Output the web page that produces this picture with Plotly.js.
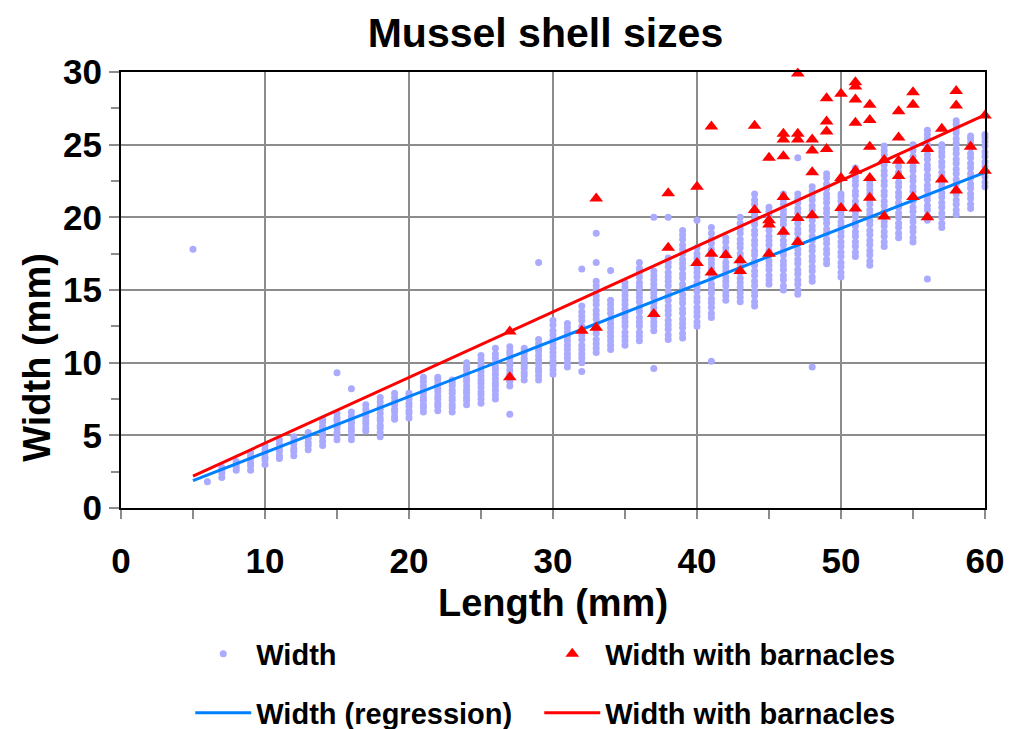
<!DOCTYPE html>
<html>
<head>
<meta charset="utf-8">
<script src="https://cdn.plot.ly/plotly-3.0.1.min.js"></script>
<style>html,body{margin:0;padding:0;background:#fff;}#chart{width:1012px;height:729px;}</style>
</head>
<body>
<div id="chart"></div>
<script>
// Shell length (mm) columns and the widths measured at each length
const lengths = [5,6,7,8,9,10,11,12,13,14,15,16,17,18,19,20,21,22,23,24,25,26,27,28,29,30,31,32,33,34,35,36,37,38,39,40,41,42,43,44,45,46,47,48,49,50,51,52,53,54,55,56,57,58,59,60];
const widthsAtLength = [
  [17.8],
  [1.8],
  [2.1,2.4,2.6,2.8],
  [2.6,2.8,3.0,3.2],
  [2.6,2.9,3.1,3.4,3.6,3.8],
  [3.0,3.3,3.5,3.8,4.0,4.3],
  [3.4,3.6,3.9,4.1,4.4,4.7],
  [3.6,3.9,4.1,4.4,4.6,4.9],
  [4.0,4.3,4.5,4.8,5.0,5.2],
  [4.3,4.6,4.9,5.1,5.4,5.6,5.9,6.1],
  [4.7,5.0,5.2,5.5,5.7,6.0,6.2,6.5,9.3],
  [4.7,5.0,5.3,5.5,5.8,6.0,6.3,6.6,8.2],
  [5.3,5.5,5.8,6.0,6.3,6.5,6.8,7.1],
  [4.9,5.2,5.5,5.7,6.0,6.2,6.5,6.8,7.0,7.3,7.6],
  [6.1,6.3,6.6,6.8,7.1,7.3,7.6,7.9],
  [6.2,6.5,6.7,7.0,7.2,7.5,7.7,7.9],
  [6.6,6.9,7.1,7.4,7.6,7.9,8.1,8.4,8.7,9.0],
  [6.7,7.0,7.2,7.5,7.7,8.0,8.2,8.5,8.8,9.0],
  [6.6,6.9,7.1,7.4,7.6,7.9,8.1,8.4,8.6,8.8],
  [7.1,7.4,7.6,7.9,8.1,8.4,8.7,8.9,9.2,9.5,9.7,10.0],
  [7.2,7.5,7.8,8.0,8.3,8.6,8.8,9.1,9.4,9.7,9.9,10.2,10.5],
  [7.5,7.8,8.1,8.4,8.6,8.9,9.2,9.5,9.7,10.0,10.3,10.6,11.0],
  [6.45,8.4,8.7,9.0,9.2,9.5,9.8,10.0,10.3,10.6,10.8,11.1],
  [8.8,9.1,9.3,9.6,9.8,10.1,10.3,10.6,10.8,11.0],
  [8.8,9.1,9.4,9.6,9.9,10.2,10.5,10.8,11.0,11.3,11.6,16.9],
  [9.2,9.5,9.8,10.1,10.4,10.7,11.0,11.3,11.6,11.9,12.2,12.6,12.9],
  [9.7,10.0,10.3,10.6,10.9,11.2,11.5,11.8,12.1,12.4,12.7],
  [9.4,10.0,10.3,10.6,10.9,11.2,11.6,11.9,12.2,12.5,12.9,13.2,13.5,13.9,16.45],
  [10.7,11.0,11.3,11.6,12.0,12.3,12.6,13.0,13.3,13.6,14.0,14.3,14.6,15.0,15.3,15.6,16.9,18.9],
  [10.9,11.2,11.5,11.8,12.1,12.4,12.7,13.0,13.4,13.7,14.0,14.3,16.35],
  [11.2,11.5,11.8,12.1,12.5,12.8,13.1,13.4,13.7,14.0,14.3,14.6,14.9,15.2,15.5],
  [11.5,11.8,12.1,12.5,12.8,13.1,13.5,13.8,14.2,14.5,14.8,15.2,15.5,15.9,16.2,16.5,16.9],
  [9.6,12.2,12.5,12.8,13.1,13.5,13.8,14.1,14.5,14.8,15.1,15.4,15.7,16.0,16.3,20.0],
  [11.6,11.9,12.3,12.6,12.9,13.3,13.6,13.9,14.3,14.6,14.9,15.3,15.6,15.9,16.2,16.6,16.9,17.2,20.0],
  [11.7,12.0,12.4,12.7,13.0,13.4,13.7,14.1,14.4,14.7,15.1,15.4,15.8,16.1,16.5,16.8,17.1,17.5,17.8,18.1,18.5,18.8,19.1],
  [12.5,12.8,13.2,13.5,13.8,14.2,14.5,14.9,15.2,15.5,15.9,16.2,16.5,16.9,17.2,17.5,17.9,19.8],
  [10.1,13.1,13.4,13.8,14.1,14.4,14.8,15.1,15.4,15.8,16.1,16.5,16.8,17.1,17.5,17.8,18.2,18.5,18.9,19.3],
  [14.3,14.6,14.9,15.3,15.6,15.9,16.3,16.6,16.9,17.3,17.6,17.9,18.3,18.6],
  [14.2,14.5,14.8,15.2,15.5,15.8,16.2,16.5,16.8,17.2,17.5,17.9,18.2,18.5,18.9,19.2,19.6,20.0],
  [13.9,14.2,14.6,14.9,15.3,15.6,16.0,16.3,16.7,17.0,17.4,17.7,18.1,18.4,18.8,19.1,19.5,19.8,20.2,20.5,20.9,21.2,21.6],
  [15.4,15.7,16.0,16.4,16.7,17.0,17.4,17.7,18.1,18.4,18.7,19.1,19.4,19.7,20.1,20.4,20.7],
  [15.0,15.3,15.7,16.0,16.4,16.7,17.0,17.4,17.7,18.1,18.4,18.8,19.1,19.5,19.8,20.2,20.5,20.9,21.2,21.6],
  [14.7,15.0,15.4,15.7,16.1,16.4,16.8,17.1,17.5,17.8,18.2,18.5,18.9,19.2,19.6,19.9,20.3,20.6,21.0,21.3,21.6,24.1],
  [9.7,15.6,15.9,16.3,16.6,17.0,17.3,17.7,18.0,18.4,18.7,19.1,19.4,19.8,20.1,20.5,20.8,21.2,21.5,21.8,22.1],
  [16.8,17.1,17.5,17.8,18.2,18.5,18.9,19.2,19.6,19.9,20.3,20.6,21.0,21.3,21.6,22.0,22.3,22.7,23.0],
  [15.9,16.2,16.6,16.9,17.3,17.6,18.0,18.3,18.7,19.0,19.4,19.7,20.1,20.4,20.8,21.1,21.4,21.6],
  [17.3,17.6,18.0,18.3,18.7,19.0,19.4,19.7,20.1,20.4,20.8,21.1,21.5,21.8,22.2,22.5,22.8,23.1,23.4],
  [16.7,17.0,17.4,17.7,18.1,18.4,18.8,19.1,19.5,19.8,20.2,20.5,20.9,21.2,21.6,21.9,22.2,22.5],
  [18.0,18.3,18.7,19.0,19.4,19.7,20.1,20.4,20.8,21.1,21.5,21.8,22.2,22.5,22.9,23.2,23.6,23.9,24.3,24.6,24.9],
  [18.6,18.9,19.3,19.6,20.0,20.3,20.7,21.0,21.4,21.7,22.1,22.4,22.8,23.1,23.5,23.9],
  [18.3,18.6,19.0,19.3,19.7,20.0,20.4,20.7,21.1,21.4,21.8,22.1,22.5,22.8,23.2,23.5,23.9,24.2,24.6,25.0],
  [15.75,19.8,20.1,20.5,20.8,21.2,21.5,21.9,22.2,22.6,22.9,23.3,23.6,24.0,24.3,24.7,25.0,25.4,25.7,26.0],
  [19.3,19.6,20.0,20.3,20.7,21.0,21.4,21.7,22.1,22.4,22.8,23.1,23.5,23.8,24.2,24.5,24.8,25.0],
  [20.2,20.5,20.9,21.2,21.6,21.9,22.3,22.6,23.0,23.3,23.7,24.0,24.4,24.7,25.1,25.4,25.8,26.1,26.4,26.65],
  [20.6,20.9,21.3,21.6,22.0,22.3,22.7,23.0,23.4,23.7,24.1,24.4,24.8,25.1,25.4,25.6],
  [22.1,22.4,22.8,23.1,23.5,23.8,24.2,24.5,24.9,25.2,25.5,25.7]
];

// Mussels with barnacles
const barnacleLength = [27,27,32,33,33,37,38,38,40,40,41,41,41,42,43,43,44,44,45,45,45,45,46,46,46,46,46,47,47,47,47,47,48,48,48,48,49,49,49,49,50,50,50,51,51,51,51,51,51,52,52,52,52,52,53,53,54,54,54,54,55,55,55,55,56,56,57,57,58,58,58,59,60,60];
const barnacleWidth  = [9.0,12.15,12.2,12.4,21.3,13.35,17.9,21.65,16.85,22.1,16.2,17.5,26.25,17.4,16.3,17.05,20.5,26.3,17.5,19.5,19.8,24.1,19.0,21.4,24.2,25.35,25.75,18.3,19.95,25.35,25.75,29.9,20.15,23.1,24.6,25.35,24.7,25.9,26.6,28.2,20.65,22.7,28.5,20.6,23.2,26.5,28.1,29.0,29.3,21.35,22.7,24.85,26.7,27.75,20.05,23.95,22.85,23.9,25.5,27.3,21.4,23.9,27.75,28.6,20.0,24.7,22.6,26.1,21.85,27.7,28.7,24.85,23.2,27.0];

// Regression lines (end points)
const regressionLength = [5, 60];
const regressionWidth = [1.88, 23.1];
const regressionBarnacleWidth = [2.2, 27.05];

const tickVals = [0, 10, 20, 30, 40, 50, 60];
const yTickVals = [0, 5, 10, 15, 20, 25, 30];

const ptsX = [], ptsY = [];
lengths.forEach((L, i) => widthsAtLength[i].forEach(w => { ptsX.push(L); ptsY.push(w); }));

const FONT = 'Arial, "Liberation Sans", sans-serif';
const bold = (size) => ({family: FONT, size: size, color: '#000', weight: 700});

const traces = [
  {x: ptsX, y: ptsY, type: 'scatter', mode: 'markers', name: 'Width',
   marker: {color: '#aaaaff', size: 7, symbol: 'circle'}, cliponaxis: false, legend: 'legend'},
  {x: regressionLength, y: regressionWidth, type: 'scatter', mode: 'lines', name: 'Width (regression)',
   line: {color: '#0080ff', width: 3}, legend: 'legend3'},
  {x: regressionLength, y: regressionBarnacleWidth, type: 'scatter', mode: 'lines', name: 'Width with barnacles',
   line: {color: '#ff0000', width: 3}, legend: 'legend4'},
  {x: barnacleLength, y: barnacleWidth, type: 'scatter', mode: 'markers', name: 'Width with barnacles',
   marker: {color: '#ff0000', size: 12, symbol: 'triangle-up'}, cliponaxis: false, legend: 'legend2'}
];

const legendCommon = {
  orientation: 'h', xref: 'container', yref: 'container', xanchor: 'left', yanchor: 'middle',
  font: bold(29), bgcolor: 'rgba(0,0,0,0)', borderwidth: 0, itemwidth: 56
};
const col1 = 0.188, col2 = 0.188 + 349 / 1012;
const row1 = 1 - 654 / 729, row2 = 1 - 713 / 729;

const layout = {
  width: 1012, height: 729,
  paper_bgcolor: '#fff', plot_bgcolor: '#fff',
  margin: {l: 121, r: 27, t: 72, b: 221, pad: 0},
  title: {text: 'Mussel shell sizes', font: bold(41), xref: 'container', yref: 'container',
          x: 0.539, y: 0.955, xanchor: 'center', yanchor: 'middle'},
  xaxis: {
    range: [0, 60], tickvals: tickVals, ticktext: tickVals.map(String),
    showgrid: true, gridcolor: '#8c8c8c', gridwidth: 2, zeroline: false,
    showline: true, linecolor: '#000', linewidth: 2, mirror: true,
    ticks: 'outside', ticklen: 9, tickwidth: 2, tickcolor: '#8c8c8c',
    minor: {tickvals: [5, 15, 25, 35, 45, 55], ticks: 'outside', ticklen: 9, tickwidth: 2, tickcolor: '#8c8c8c', showgrid: false},
    tickfont: bold(35), ticklabelstandoff: 12,
    title: {text: 'Length (mm)', font: bold(38), standoff: 10},
    automargin: false
  },
  yaxis: {
    range: [0, 30], tickvals: yTickVals, ticktext: yTickVals.map(String),
    showgrid: true, gridcolor: '#8c8c8c', gridwidth: 2, zeroline: false,
    showline: true, linecolor: '#000', linewidth: 2, mirror: true,
    ticks: 'outside', ticklen: 10, tickwidth: 2, tickcolor: '#8c8c8c',
    minor: {tickvals: [2.5, 7.5, 12.5, 17.5, 22.5, 27.5], ticks: 'outside', ticklen: 8, tickwidth: 2, tickcolor: '#8c8c8c', showgrid: false},
    tickfont: bold(35), ticklabelstandoff: 0,
    automargin: false
  },
  annotations: [{
    text: 'Width (mm)', xref: 'paper', yref: 'paper', x: -0.0975, y: (508 - 357) / 436,
    textangle: -90, showarrow: false, font: bold(38), xanchor: 'center', yanchor: 'middle'
  }],
  legend:  Object.assign({}, legendCommon, {x: col1, y: row1}),
  legend2: Object.assign({}, legendCommon, {x: col2, y: row1}),
  legend3: Object.assign({}, legendCommon, {x: col1, y: row2}),
  legend4: Object.assign({}, legendCommon, {x: col2, y: row2}),
  showlegend: true
};

Plotly.newPlot('chart', traces, layout, {displayModeBar: false, staticPlot: true});
</script>
</body>
</html>
